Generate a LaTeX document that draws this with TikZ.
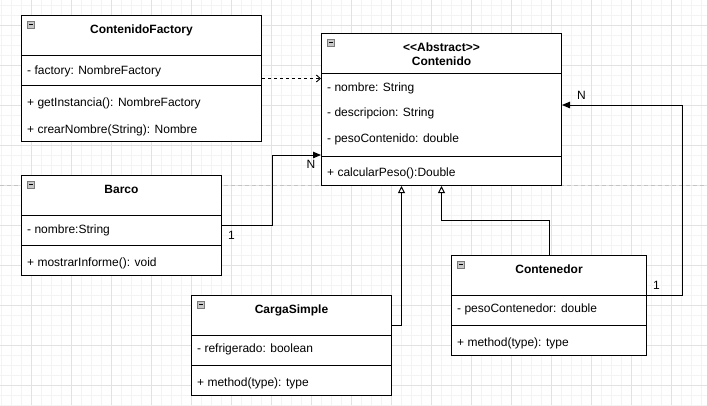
\documentclass[tikz,border=0pt]{standalone}
\usepackage{fontspec}
\setmainfont{Liberation Sans}[Ligatures=TeXOff]
\usetikzlibrary{arrows.meta,positioning}

\definecolor{gridminor}{HTML}{F3F3F3}
\definecolor{gridmajor}{HTML}{E2E2E2}
\definecolor{pagebreak}{HTML}{C4C4C4}
\definecolor{iconfill}{HTML}{C8C8C8}
\definecolor{icondraw}{HTML}{7A7A7A}

\tikzset{
  classbox/.style={draw=black,line width=1pt,fill=white,anchor=north west,inner sep=0pt},
  classname/.style={anchor=base,font=\fontsize{12}{14}\selectfont\bfseries,inner sep=0pt},
  member/.style={anchor=base west,font=\fontsize{12}{14}\selectfont,inner sep=0pt},
  mult/.style={anchor=base,font=\fontsize{12}{14}\selectfont,inner sep=0pt},
  assoc/.style={draw=black,line width=1pt,-{Triangle[length=8pt,width=6.5pt]}},
  inherit/.style={draw=black,line width=1pt,-{Triangle[open,length=7pt,width=7pt,fill=white]}},
  depend/.style={draw=black,line width=0.9pt,dash pattern=on 3pt off 3pt,-{Straight Barb[length=4pt,width=7pt]}},
}

\begin{document}
\begin{tikzpicture}[x=1pt,y=-1pt]

  % background and grid
  \fill[white] (0,0) rectangle (707,405);
  \useasboundingbox (0,0) rectangle (707,405);
  \foreach \x in {1,11,...,701}
    \draw[gridminor,line width=1pt] (\x,0) -- (\x,405);
  \foreach \y in {5,15,...,405}
    \draw[gridminor,line width=1pt] (0,\y) -- (707,\y);
  \foreach \x in {31,71,...,671}
    \draw[gridmajor,line width=1pt] (\x,0) -- (\x,405);
  \foreach \y in {25,65,...,385}
    \draw[gridmajor,line width=1pt] (0,\y) -- (707,\y);
  \draw[pagebreak,line width=1pt,dash pattern=on 4pt off 3pt] (0,185) -- (707,185);

  % classes
  \node[classbox,minimum width=240pt,minimum height=126pt] (factory) at (21,15) {};
  \node[classbox,minimum width=240pt,minimum height=152pt] (contenido) at (321,33) {};
  \node[classbox,minimum width=200pt,minimum height=100pt] (barco) at (21,175) {};
  \node[classbox,minimum width=200pt,minimum height=100pt] (carga) at (191,295) {};
  \node[classbox,minimum width=195pt,minimum height=100pt] (contenedor) at (451,255) {};

  \foreach \c/\a/\b in {factory/40/70,contenido/40/123,barco/40/70,carga/40/70,contenedor/40/70} {
    \draw[line width=1pt] ([shift={(0,\a)}]\c.north west) -- ([shift={(0,\a)}]\c.north east);
    \draw[line width=1pt] ([shift={(0,\b)}]\c.north west) -- ([shift={(0,\b)}]\c.north east);
    \draw[icondraw,fill=iconfill,line width=0.7pt] ([shift={(6.5,6.3)}]\c.north west) rectangle ++(7,7);
    \draw[black,line width=1pt] ([shift={(8,9.8)}]\c.north west) -- ++(4,0);
  }

  % ContenidoFactory
  \node[classname] (factoryName) at ([shift={(0,18)}]factory.north) {ContenidoFactory};
  \node[member] (factoryAttr) at ([shift={(6,59)}]factory.north west) {- factory: NombreFactory};
  \node[member] (factoryOp1) at ([shift={(6,91.5)}]factory.north west) {+ getInstancia(): NombreFactory};
  \node[member] (factoryOp2) at ([shift={(6,118)}]factory.north west) {+ crearNombre(String): Nombre};

  % Contenido
  \node[classname] (contenidoStereo) at ([shift={(0,18)}]contenido.north) {<<Abstract>>};
  \node[classname] (contenidoName) at ([shift={(0,32)}]contenido.north) {Contenido};
  \node[member] (contenidoAttr1) at ([shift={(6,58)}]contenido.north west) {- nombre: String};
  \node[member] (contenidoAttr2) at ([shift={(6,83.5)}]contenido.north west) {- descripcion: String};
  \node[member] (contenidoAttr3) at ([shift={(6,109.3)}]contenido.north west) {- pesoContenido: double};
  \node[member] (contenidoOp) at ([shift={(6,143.7)}]contenido.north west) {+ calcularPeso():Double};

  % Barco
  \node[classname] (barcoName) at ([shift={(0,18.3)}]barco.north) {Barco};
  \node[member] (barcoAttr) at ([shift={(6,58.3)}]barco.north west) {- nombre:String};
  \node[member] (barcoOp) at ([shift={(6,91)}]barco.north west) {+ mostrarInforme(): void};

  % CargaSimple
  \node[classname] (cargaName) at ([shift={(0,18)}]carga.north) {CargaSimple};
  \node[member] (cargaAttr) at ([shift={(6,57.7)}]carga.north west) {- refrigerado: boolean};
  \node[member] (cargaOp) at ([shift={(6,91.7)}]carga.north west) {+ method(type): type};

  % Contenedor
  \node[classname] (contenedorName) at ([shift={(0,18.5)}]contenedor.north) {Contenedor};
  \node[member] (contenedorAttr) at ([shift={(6,57.7)}]contenedor.north west) {- pesoContenedor: double};
  \node[member] (contenedorOp) at ([shift={(6,91.7)}]contenedor.north west) {+ method(type): type};

  % connectors
  \draw[depend] (factory.east) -- (factory.east -| contenido.west);
  \draw[assoc] (barco.east) -- ++(50,0) |- ([shift={(0,122)}]contenido.north west);
  \draw[inherit] ([shift={(0,30)}]carga.north east) -| ([xshift=-40pt]contenido.south);
  \draw[inherit] (contenedor.north) -- ++(0,-35) -| (contenido.south);
  \draw[assoc] ([shift={(0,40)}]contenedor.north east) -- ++(35,0) |- ([shift={(0,72)}]contenido.north east);

  % multiplicities
  \node[mult] (barcoOne) at (231.5,239.5) {1};
  \node[mult] (barcoN) at (311,168.5) {N};
  \node[mult] (contenedorN) at (581.5,99.3) {N};
  \node[mult] (contenedorOne) at (656.5,289.3) {1};

\end{tikzpicture}
\end{document}
